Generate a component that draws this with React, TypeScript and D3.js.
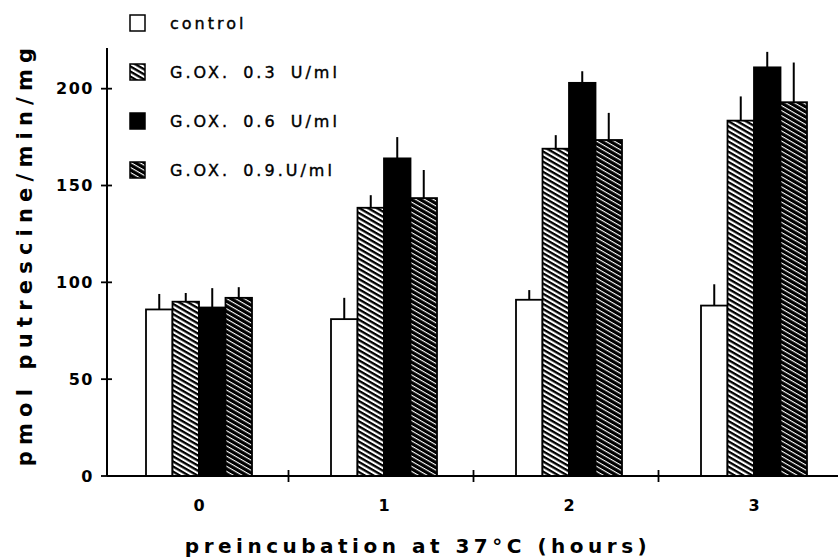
import React from "react";
import * as d3 from "d3";

const hours = ["0", "1", "2", "3"];
const seriesNames = ["control", "G.OX. 0.3 U/ml", "G.OX. 0.6 U/ml", "G.OX. 0.9.U/ml"];
const control = [86, 81, 91, 88];
const controlErr = [8, 11, 5, 11];
const gox03 = [90, 138.5, 169, 183.5];
const gox03Err = [4.5, 6.5, 7, 12.5];
const gox06 = [87, 164, 203, 211];
const gox06Err = [10, 11, 6, 8];
const gox09 = [92, 143.5, 173.5, 193];
const gox09Err = [5.5, 14.5, 14, 20.5];
const yTicks = [0, 50, 100, 150, 200];

const W = 838;
const H = 557;
const FONT = "DejaVu Sans, sans-serif";

const values = [control, gox03, gox06, gox09];
const errors = [controlErr, gox03Err, gox06Err, gox09Err];
const fills = ["#fff", "url(#hatch03)", "#000", "url(#hatch09)"];

export default function App() {
  const y = d3.scaleLinear().domain([0, 221]).range([476, 48]);
  const x = d3.scaleBand<string>().domain(hours).range([106.5, 846.5]);
  const inner = d3
    .scaleBand<number>()
    .domain(d3.range(seriesNames.length))
    .range([39.5, 39.5 + 106]);

  const x0 = 107;
  const y0 = y(0);

  return (
    <svg
      width={W}
      height={H}
      style={{ position: "absolute", left: 0, top: 0, background: "#fff" }}
    >
      <defs>
        <pattern
          id="hatch03"
          patternUnits="userSpaceOnUse"
          width={8}
          height={4.4}
          patternTransform="rotate(30)"
        >
          <rect width={8} height={4.4} fill="#fff" />
          <rect width={8} height={2.3} fill="#000" />
        </pattern>
        <pattern
          id="hatch09"
          patternUnits="userSpaceOnUse"
          width={8}
          height={4.4}
          patternTransform="rotate(30)"
        >
          <rect width={8} height={4.4} fill="#000" />
          <rect width={8} height={1.1} fill="#fff" />
        </pattern>
      </defs>

      {/* bars */}
      {hours.map((h, gi) => (
        <g key={h} transform={`translate(${x(h)},0)`}>
          {values.map((vals, si) => {
            const bx = inner(si)!;
            const bw = inner.bandwidth();
            const top = y(vals[gi]);
            return (
              <g key={si}>
                <line
                  x1={bx + bw / 2}
                  x2={bx + bw / 2}
                  y1={top}
                  y2={y(vals[gi] + errors[si][gi])}
                  stroke="#000"
                  strokeWidth={2}
                />
                <rect
                  x={bx}
                  y={top}
                  width={bw}
                  height={y0 - top}
                  fill={fills[si]}
                  stroke="#000"
                  strokeWidth={1.8}
                />
              </g>
            );
          })}
        </g>
      ))}

      {/* y axis */}
      <line x1={x0} x2={x0} y1={y.range()[1]} y2={y0} stroke="#000" strokeWidth={2} />
      {yTicks.map((t) => (
        <g key={t}>
          <line x1={x0 - 6} x2={x0 + 5} y1={y(t)} y2={y(t)} stroke="#000" strokeWidth={1.8} />
          <text
            x={94}
            y={y(t)}
            dy="0.36em"
            textAnchor="end"
            fontFamily={FONT}
            fontWeight="bold"
            fontSize={16}
            letterSpacing={1.5}
          >
            {t}
          </text>
        </g>
      ))}

      {/* x axis */}
      <line x1={x0} x2={W} y1={y0} y2={y0} stroke="#000" strokeWidth={2} />
      {hours.slice(1).map((h) => (
        <line
          key={h}
          x1={x(h)! - 3}
          x2={x(h)! - 3}
          y1={y0 - 6}
          y2={y0 + 6}
          stroke="#000"
          strokeWidth={1.8}
        />
      ))}
      {hours.map((h) => (
        <text
          key={h}
          x={x(h)! + x.bandwidth() / 2}
          y={511}
          textAnchor="middle"
          fontFamily={FONT}
          fontWeight="bold"
          fontSize={16}
        >
          {h}
        </text>
      ))}

      <text
        x={418}
        y={553}
        textAnchor="middle"
        fontFamily={FONT}
        fontWeight="bold"
        fontSize={20}
        letterSpacing={4.5}
      >
        preincubation at 37°C (hours)
      </text>
      <text
        transform="translate(32,254) rotate(-90)"
        textAnchor="middle"
        fontFamily={FONT}
        fontWeight="bold"
        fontSize={21}
        letterSpacing={6.2}
      >
        pmol putrescine/min/mg
      </text>

      {/* legend */}
      {seriesNames.map((name, i) => {
        const cy = 23 + i * 49;
        return (
          <g key={name}>
            <rect
              x={130}
              y={cy - 8}
              width={15}
              height={16}
              fill={fills[i]}
              stroke="#000"
              strokeWidth={1.5}
            />
            <text
              x={170}
              y={cy}
              dy="0.35em"
              fontFamily={FONT}
              fontSize={16}
              letterSpacing={3}
              wordSpacing={5}
              stroke="#000"
              strokeWidth={0.4}
            >
              {name}
            </text>
          </g>
        );
      })}
    </svg>
  );
}
